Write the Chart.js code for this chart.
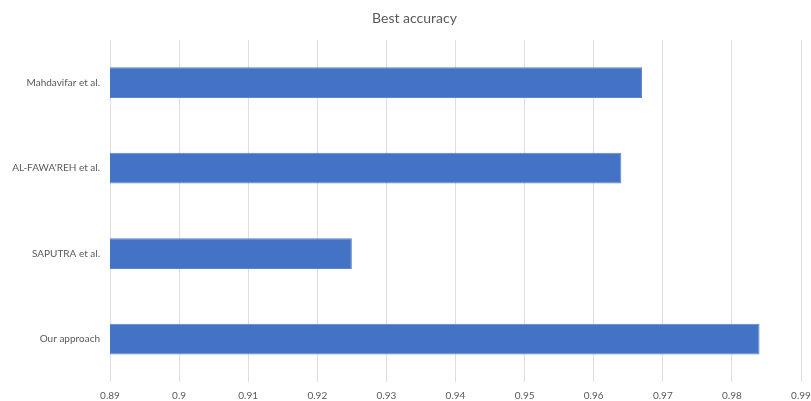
<!DOCTYPE html>
<html>
<head>
<meta charset="utf-8">
<title>Best accuracy</title>
<script src="https://cdn.jsdelivr.net/npm/chart.js@4/dist/chart.umd.min.js"></script>
<style>
  html, body { margin: 0; padding: 0; background: #fff; }
  #wrap { width: 811px; height: 401px; }
</style>
</head>
<body>
<div id="wrap"><canvas id="accChart"></canvas></div>
<script>
// methods, top to bottom
const methods = ["Mahdavifar et al.", "AL-FAWA'REH et al.", "SAPUTRA et al.", "Our approach"];
const bestAccuracy = [0.967, 0.964, 0.925, 0.984];
const xMin = 0.89;
const xMax = 0.99;
const xStep = 0.01;

const textGrey = "#595959";
const fontFamily = "Lato, 'Open Sans', sans-serif";

// title sits a little right of the canvas centre, so nudge the title box
const shiftTitle = {
  id: "shiftTitle",
  afterLayout(chart) {
    const tb = chart.titleBlock;
    if (tb) tb.left += 28;
  }
};

const ctx = document.getElementById("accChart");

new Chart(ctx, {
  type: "bar",
  data: {
    labels: methods,
    datasets: [{
      label: "Best accuracy",
      data: bestAccuracy,
      backgroundColor: "#4472C4",
      borderColor: "#5a84cc",
      borderWidth: 1,
      borderSkipped: false,
      barPercentage: 0.36,
      categoryPercentage: 1
    }]
  },
  options: {
    indexAxis: "y",
    responsive: true,
    maintainAspectRatio: false,
    animation: false,
    layout: { padding: { left: 0, right: 10, top: 0, bottom: 0 } },
    scales: {
      x: {
        min: xMin,
        max: xMax,
        ticks: {
          stepSize: xStep,
          color: textGrey,
          font: { family: fontFamily, size: 10 },
          padding: 8,
          // drop trailing zeros: 0.9 rather than 0.90
          callback: (v) => String(parseFloat(Number(v).toFixed(2)))
        },
        grid: { color: "#dedede", drawTicks: false },
        border: { display: false },
        afterFit: (scale) => {
          scale.height = 19;
          scale.paddingLeft = 0;
          scale.paddingRight = 0;
        }
      },
      y: {
        ticks: {
          color: textGrey,
          font: { family: fontFamily, size: 10 },
          padding: 10
        },
        grid: { display: false, drawTicks: false },
        border: { display: false },
        afterFit: (scale) => { scale.width = 110; }
      }
    },
    plugins: {
      legend: { display: false },
      tooltip: { enabled: false },
      title: {
        display: true,
        text: "Best accuracy",
        color: textGrey,
        font: { family: fontFamily, size: 14, weight: "normal" },
        padding: { top: 10, bottom: 13 }
      }
    }
  },
  plugins: [shiftTitle]
});
</script>
</body>
</html>
